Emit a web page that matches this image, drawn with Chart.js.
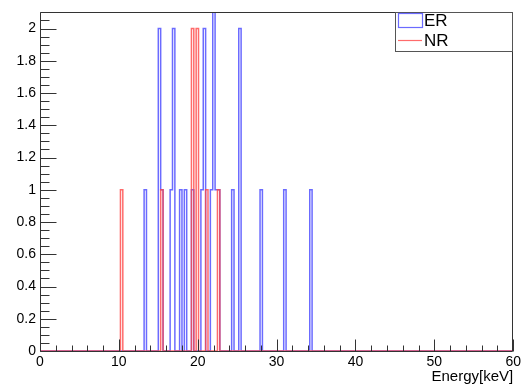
<!DOCTYPE html>
<html><head><meta charset="utf-8">
<script src="https://cdn.jsdelivr.net/npm/chart.js@4/dist/chart.umd.min.js"></script>
<style>html,body{margin:0;padding:0;background:#fff}canvas{display:block}</style>
</head><body>
<div style="width:524px;height:386px"><canvas id="c" width="524" height="386"></canvas></div>
<script>
// ---- data ----
const seriesNames = ['ER', 'NR'];
const binWidth = 0.3;           // keV per bin (200 bins on 0-60)
const xMin = 0, xMax = 60;
const yMin = 0, yMax = 2.1;
// lower edges (keV) of non-empty bins and their counts
const erBinLow = [13.2, 15.0, 15.3, 16.5, 16.8, 17.7, 18.3, 19.2, 20.4, 20.7, 21.6, 21.9, 22.2, 22.5, 24.3, 25.2, 27.9, 30.9, 34.2];
const erCounts = [1,    2,    1,    1,    2,    1,    1,    1,    1,    2,    1,    3,    1,    1,    1,    2,    1,    1,    1];
const nrBinLow = [10.2, 15.3, 19.2, 19.8, 21.0, 22.5];
const nrCounts = [1,    1,    2,    2,    1,    1];
const xTickLabels = [0, 10, 20, 30, 40, 50, 60];
const yTickLabels = [0, 0.2, 0.4, 0.6, 0.8, 1, 1.2, 1.4, 1.6, 1.8, 2];
const xTitle = 'Energy[keV]';

function histPoints(lows, counts) {
  const n = Math.round((xMax - xMin) / binWidth);
  const c = new Array(n + 1).fill(0);
  lows.forEach((l, i) => { c[Math.round((l - xMin) / binWidth)] += counts[i]; });
  return c.map((v, k) => ({ x: +(xMin + k * binWidth).toFixed(4), y: v }));
}

const FONT = "'Liberation Sans', Arial, Helvetica, sans-serif";
const ER_COLOR = 'rgba(70,70,255,0.8)';
const NR_COLOR = 'rgba(255,70,70,0.8)';

const rootFrame = {
  id: 'rootFrame',
  afterDatasetsDraw(chart) {
    const { ctx, chartArea: a, scales: { x, y } } = chart;
    ctx.save();
    ctx.strokeStyle = '#333';
    ctx.lineWidth = 1;
    const L = Math.round(a.left) + 0.5, R = Math.round(a.right) - 0.5;
    const T = Math.round(a.top) + 0.5, B = Math.round(a.bottom) + 0.5;
    ctx.beginPath();
    ctx.moveTo(L, T); ctx.lineTo(R, T); ctx.lineTo(R, B); ctx.lineTo(L, B); ctx.closePath();
    ctx.stroke();
    ctx.beginPath();
    for (let k = 0; k <= 30; k++) {
      const v = xMin + k * 2;
      const px = Math.round(x.getPixelForValue(v)) + 0.5;
      const len = (v % 10 === 0) ? 12 : 6;
      ctx.moveTo(px, B); ctx.lineTo(px, B - len);
    }
    for (let k = 0; k <= 42; k++) {
      const v = k * 0.05;
      const py = Math.round(y.getPixelForValue(v)) + 0.5;
      const len = (k % 4 === 0) ? 16 : 9;
      ctx.moveTo(L, py); ctx.lineTo(L + len, py);
    }
    ctx.stroke();

    // legend (ROOT TLegend style)
    const lx0 = 395.5, ly0 = T, lx1 = R, ly1 = 51.5;
    ctx.fillStyle = '#fff';
    ctx.fillRect(lx0, ly0, lx1 - lx0, ly1 - ly0);
    ctx.strokeStyle = '#555';
    ctx.strokeRect(lx0, ly0, lx1 - lx0, ly1 - ly0);
    ctx.font = '17px ' + FONT;
    ctx.fillStyle = '#000';
    ctx.textBaseline = 'middle';
    ctx.textAlign = 'left';
    ctx.strokeStyle = ER_COLOR; ctx.lineWidth = 1.2;
    ctx.strokeRect(398.5, 13.5, 24, 14);
    ctx.fillText(seriesNames[0], 424, 21);
    ctx.strokeStyle = NR_COLOR;
    ctx.beginPath(); ctx.moveTo(398, 40.5); ctx.lineTo(422, 40.5); ctx.stroke();
    ctx.fillText(seriesNames[1], 424, 41);
    ctx.restore();
  }
};

new Chart(document.getElementById('c'), {
  type: 'line',
  data: {
    datasets: [
      { label: seriesNames[0], data: histPoints(erBinLow, erCounts), borderColor: ER_COLOR, borderWidth: 1.5,
        stepped: 'before', pointRadius: 0, fill: false, tension: 0, order: 2, clip: 0 },
      { label: seriesNames[1], data: histPoints(nrBinLow, nrCounts), borderColor: NR_COLOR, borderWidth: 1.5,
        stepped: 'before', pointRadius: 0, fill: false, tension: 0, order: 1, clip: 0 }
    ]
  },
  options: {
    responsive: false, animation: false, devicePixelRatio: 1,
    layout: { padding: { left: 0, top: 9, right: 10, bottom: 0 } },
    plugins: { legend: { display: false }, tooltip: { enabled: false } },
    scales: {
      x: {
        type: 'linear', min: xMin, max: xMax,
        afterBuildTicks: s => { s.ticks = xTickLabels.map(v => ({ value: v })); },
        ticks: { font: { family: FONT, size: 14 }, color: '#000', padding: 3, maxRotation: 0, autoSkip: false, includeBounds: false },
        grid: { display: false, drawTicks: false },
        border: { display: false },
        title: { display: true, text: xTitle, align: 'end', font: { family: FONT, size: 15 }, color: '#000', padding: { top: -6, bottom: 0 } },
        afterFit: s => { s.height = 35; }
      },
      y: {
        type: 'linear', min: yMin, max: yMax,
        afterBuildTicks: s => { s.ticks = yTickLabels.map(v => ({ value: v })); },
        ticks: { font: { family: FONT, size: 14 }, color: '#000', padding: 4, includeBounds: false,
                 callback: v => String(+(+v).toFixed(1)) },
        grid: { display: false, drawTicks: false },
        border: { display: false },
        afterFit: s => { s.width = 40; }
      }
    }
  },
  plugins: [rootFrame]
});
</script>
</body></html>
